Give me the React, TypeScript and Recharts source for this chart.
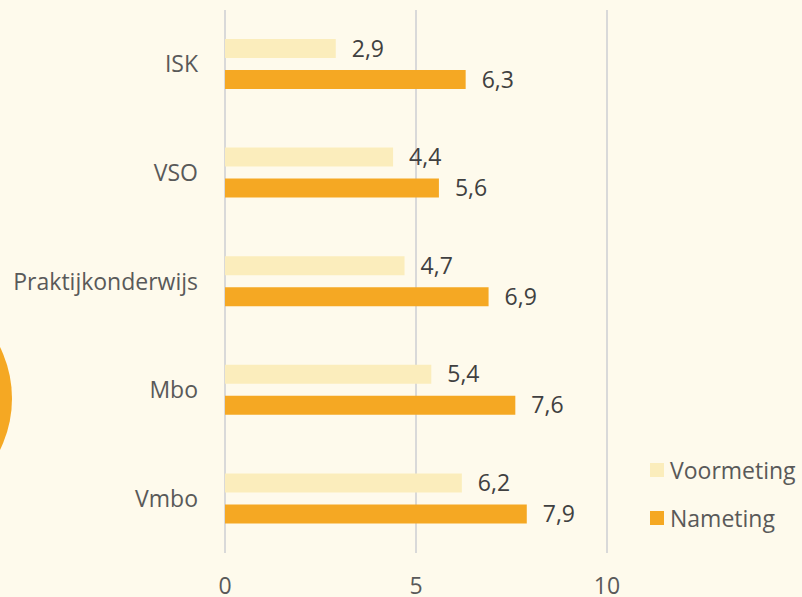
import React from 'react';
import {
  BarChart,
  Bar,
  XAxis,
  YAxis,
  CartesianGrid,
  LabelList
} from 'recharts';

const categories = ['ISK', 'VSO', 'Praktijkonderwijs', 'Mbo', 'Vmbo'];
const voormeting = [2.9, 4.4, 4.7, 5.4, 6.2];
const nameting = [6.3, 5.6, 6.9, 7.6, 7.9];
const xTicks = [0, 5, 10];

const data = categories.map((name, i) => ({
  name,
  voormeting: voormeting[i],
  nameting: nameting[i]
}));

const BG = '#FEFAEC';
const LIGHT = '#FBEDBC';
const ORANGE = '#F5A823';
const FONT = '"Open Sans", "Noto Sans", sans-serif';
const FS = 23;

const fmt = (v: any) => String(v).replace('.', ',');

// legend sits to the right of the plot, outside the chart layout
function ChartLegend() {
  const items = [
    { label: 'Voormeting', color: LIGHT },
    { label: 'Nameting', color: ORANGE }
  ];
  return (
    <div style={{ position: 'absolute', left: 650, top: 446, fontFamily: FONT }}>
      {items.map((it) => (
        <div key={it.label} style={{ display: 'flex', alignItems: 'center', height: 48 }}>
          <span style={{ width: 14, height: 14, background: it.color, marginRight: 6 }} />
          <span style={{ fontSize: FS, color: '#595959' }}>{it.label}</span>
        </div>
      ))}
    </div>
  );
}

export default function App() {
  return (
    <div style={{ position: 'absolute', left: 0, top: 0, width: 802, height: 597, background: BG, overflow: 'hidden' }}>
      <div
        style={{
          position: 'absolute',
          left: -221,
          top: 282,
          width: 233,
          height: 233,
          borderRadius: '50%',
          background: ORANGE
        }}
      />
      <BarChart
        width={802}
        height={597}
        data={data}
        layout="vertical"
        margin={{ top: 10, right: 195, bottom: 0, left: 0 }}
        barSize={19}
        barGap={12}
        style={{ position: 'absolute', left: 0, top: 0 }}
      >
        <CartesianGrid horizontal={false} stroke="#D9D9D9" strokeWidth={2} />
        <XAxis
          type="number"
          domain={[0, 10]}
          ticks={xTicks}
          height={44}
          tickSize={0}
          tickMargin={25}
          axisLine={false}
          tick={{ fontSize: FS, fill: '#595959', fontFamily: FONT }}
        />
        <YAxis
          type="category"
          dataKey="name"
          width={225}
          tickSize={0}
          tickMargin={27}
          axisLine={false}
          tick={{ fontSize: FS, fill: '#595959', fontFamily: FONT }}
        />
        <Bar dataKey="voormeting" name="Voormeting" fill={LIGHT} isAnimationActive={false}>
          <LabelList
            dataKey="voormeting"
            position="right"
            offset={16}
            formatter={fmt}
            style={{ fontSize: FS, fill: '#404040', fontFamily: FONT }}
          />
        </Bar>
        <Bar dataKey="nameting" name="Nameting" fill={ORANGE} isAnimationActive={false}>
          <LabelList
            dataKey="nameting"
            position="right"
            offset={16}
            formatter={fmt}
            style={{ fontSize: FS, fill: '#404040', fontFamily: FONT }}
          />
        </Bar>
      </BarChart>
      <ChartLegend />
    </div>
  );
}
